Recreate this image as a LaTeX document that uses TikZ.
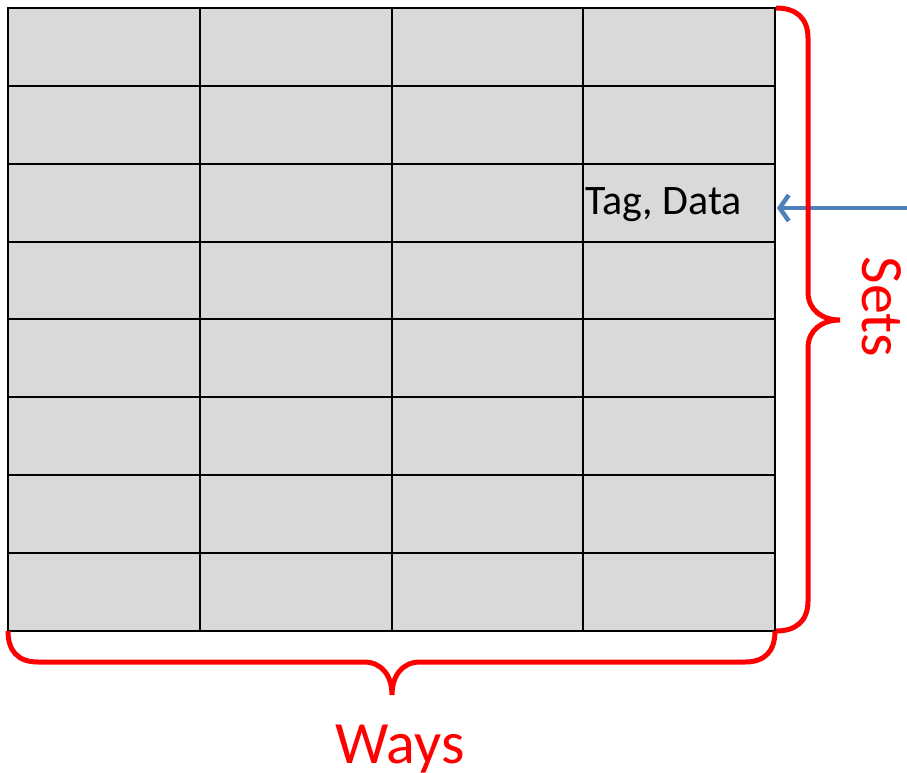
\documentclass[tikz,border=0pt]{standalone}
\usepackage{fontspec}
\setmainfont{Carlito}
\usetikzlibrary{arrows.meta}
\definecolor{cellgray}{HTML}{D9D9D9}
\definecolor{arrowblue}{HTML}{4F81BD}
\definecolor{bracered}{HTML}{FF0000}
\begin{document}
\begin{tikzpicture}[x=1pt,y=-1pt,
  cell/.style={draw=black,line width=2pt,fill=cellgray,minimum width=191.75pt,minimum height=77.9pt,inner sep=0pt,outer sep=0pt},
  bracestyle/.style={draw=bracered,line width=5pt},
  labeltext/.style={text=bracered,font=\fontsize{60}{60}\selectfont,inner sep=0pt}]
\useasboundingbox (0,0) rectangle (907,772);
\foreach \c in {0,...,3}{
  \foreach \r in {0,...,7}{
    \node[cell] (cell-\r-\c) at ({8+191.75*(\c+0.5)},{8+77.875*(\r+0.5)}) {};
  }
}
\node[anchor=base west,inner sep=0pt,font=\fontsize{42}{42}\selectfont] (tag) at (585,214) {Tag, Data};
\coordinate (arrowstart) at (907,208);
\draw[arrowblue,line width=4.5pt,-{Straight Barb[length=9pt,width=26pt,line width=4.5pt]}] (arrowstart) -- ([xshift=2pt]cell-2-3.east |- arrowstart);
\draw[bracestyle] (776,8) .. controls (796,8) and (808,18) .. (808,38) -- (808,292)
  .. controls (808,310) and (822,320) .. (840,320)
  .. controls (822,320) and (808,330) .. (808,348) -- (808,601)
  .. controls (808,621) and (796,631) .. (776,631);
\draw[bracestyle] (8,631) .. controls (8,651) and (18,662) .. (38,662) -- (364,662)
  .. controls (382,662) and (392,676) .. (392,695)
  .. controls (392,676) and (402,662) .. (420,662) -- (745,662)
  .. controls (765,662) and (775,651) .. (775,631);
\node[labeltext,rotate=-90,anchor=base] (sets) at (862,307) {Sets};
\node[labeltext,anchor=base] (ways) at (400,763) {Ways};
\end{tikzpicture}
\end{document}
